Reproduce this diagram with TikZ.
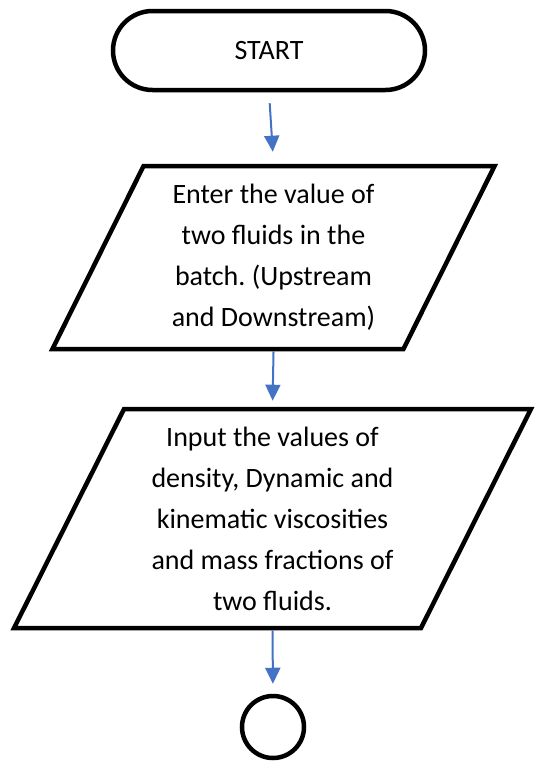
\documentclass[tikz,border=0pt]{standalone}
\usepackage{fontspec}
\setmainfont{Carlito}
\usetikzlibrary{shapes.geometric,shapes.misc,arrows.meta}
\definecolor{flowblue}{RGB}{68,114,196}
\frenchspacing

\begin{document}
\begin{tikzpicture}[x = 1pt, y = -1pt,
	blk/.style = {draw, line width = 4.5pt, inner sep = 0pt, align = center, font = \fontsize{28}{41}\selectfont},
	io/.style = {blk, trapezium, trapezium left angle = 64, trapezium right angle = 116, trapezium stretches = true},
	flow/.style = {draw = flowblue, line width = 2pt, -{Triangle[length = 16pt, width = 15pt]}}]
	\useasboundingbox (0, 0) rectangle (538, 761);
%%%%%%%%%%%
	\node[blk, rounded rectangle, minimum width = 312pt, minimum height = 79pt] (start) at (269, 50.5) {START};
	\node[io, minimum width = 443pt, minimum height = 183pt] (enter) at (273.5, 257.5)
		{Enter the value of\\two fluids in the\\batch. (Upstream\\and Downstream)};
	\node[io, minimum width = 519pt, minimum height = 219pt] (input) at (272.5, 518.5)
		{Input the values of\\density, Dynamic and\\kinematic viscosities\\and mass fractions of\\two fluids.};
	\node[blk, circle, minimum size = 62pt] (stop) at (273, 727) {};
%%%%%%%%%%%
	\draw[flow, shorten < = 11pt, shorten > = 12pt] (start.south) -- (enter.north);
	\draw[flow, shorten > = 6pt] (enter.south) -- (input.north);
	\draw[flow, shorten > = 10pt] (input.south) -- (stop.north);
\end{tikzpicture}
\end{document}
